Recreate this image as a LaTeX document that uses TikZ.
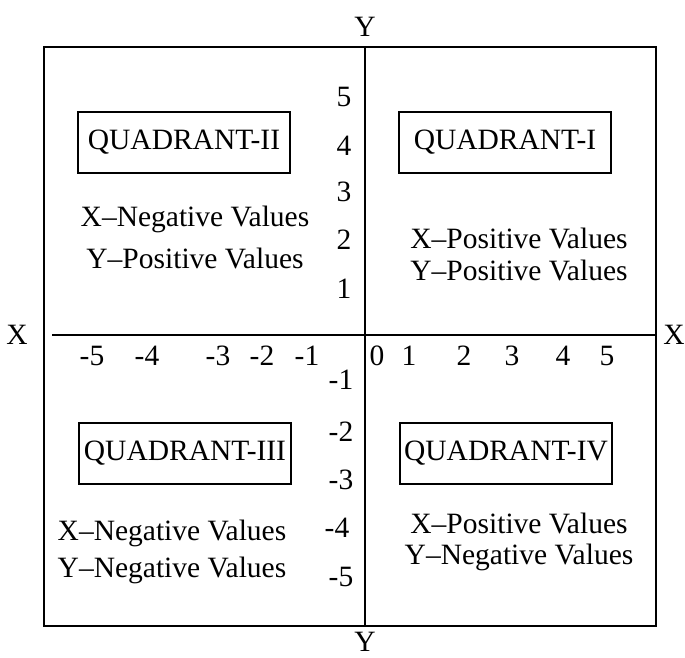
\documentclass[tikz,border=0pt]{standalone}
\usepackage{fontspec}
\setmainfont{Liberation Serif}
\begin{document}
\begin{tikzpicture}[x=1pt,y=-1pt,
  every node/.style={font=\fontsize{29.5}{34}\selectfont, inner sep=0pt},
  qbox/.style={draw, line width=1.4pt, minimum width=212pt, minimum height=61pt},
  axisline/.style={line width=1.4pt},
  num/.style={anchor=center}]
\useasboundingbox (0,0) rectangle (685,657);
% outer frame
\draw[line width=1.4pt] (44,47) rectangle (656,626);
\coordinate (ytop) at (365,47);
\coordinate (ybot) at (365,626);
\coordinate (xl) at (52,335);
\coordinate (xr) at (656,335);
\draw[axisline] (ytop) -- (ybot);
\draw[axisline] (xl) -- (xr);
% axis letters
\node (Yt) at (365,27) {Y};
\node (Yb) at (365,642) {Y};
\node (Xl) at (17,335) {X};
\node (Xr) at (674,335) {X};
% quadrant boxes
\node[qbox] (q2) at (184,142.5) {QUADRANT-II};
\node[qbox] (q1) at (505,142.5) {QUADRANT-I};
\node[qbox] (q3) at (185,453.5) {QUADRANT-III};
\node[qbox] (q4) at (506,453.5) {QUADRANT-IV};
% texts
\node (t2a) at (195,219) {X--Negative Values};
\node (t2b) at (195,258) {Y--Positive Values};
\node (t1a) at (519,238) {X--Positive Values};
\node (t1b) at (519,270) {Y--Positive Values};
\node (t3a) at (172,533) {X--Negative Values};
\node (t3b) at (172,570) {Y--Negative Values};
\node (t4a) at (519,523) {X--Positive Values};
\node (t4b) at (519,557) {Y--Negative Values};
% y numbers
\node[num] (y5) at (344,97) {5};
\node[num] (y4) at (344,146) {4};
\node[num] (y3) at (344,192) {3};
\node[num] (y2) at (344,240) {2};
\node[num] (y1) at (344,289) {1};
\node[num] (ym1) at (341,380) {-1};
\node[num] (ym2) at (341,432) {-2};
\node[num] (ym3) at (341,480) {-3};
\node[num] (ym4) at (337,528) {-4};
\node[num] (ym5) at (341,577) {-5};
% x numbers
\node[num] (xm5) at (92,356) {-5};
\node[num] (xm4) at (147,356) {-4};
\node[num] (xm3) at (218,356) {-3};
\node[num] (xm2) at (262,356) {-2};
\node[num] (xm1) at (307,356) {-1};
\node[num] (x0) at (377,356) {0};
\node[num] (x1) at (409,356) {1};
\node[num] (x2) at (464,356) {2};
\node[num] (x3) at (512,356) {3};
\node[num] (x4) at (563,356) {4};
\node[num] (x5) at (607,356) {5};
\end{tikzpicture}
\end{document}
